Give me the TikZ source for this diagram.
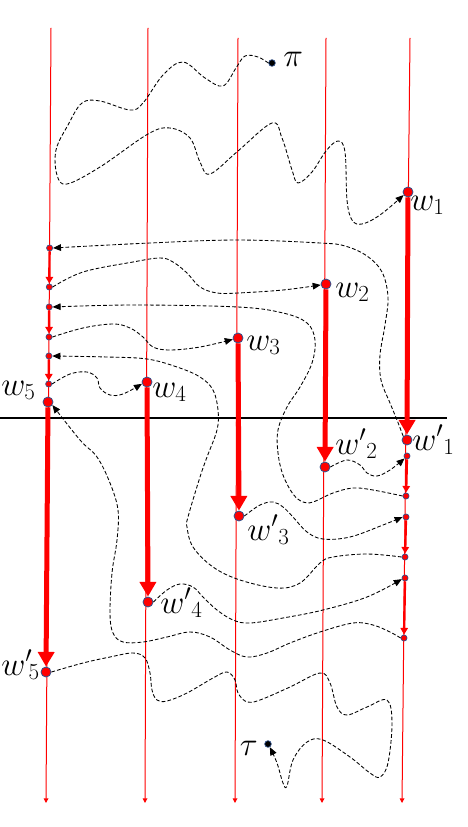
\documentclass[tikz,border=0pt]{standalone}
\usetikzlibrary{arrows.meta}
\definecolor{rimblue}{RGB}{47,82,143}
\tikzset{
  thinline/.style={red, line width=0.75pt, -{Triangle[length=3.5pt,width=3.5pt]}},
  bigarrow/.style={red, line width=3.75pt, -{Triangle[length=11pt,width=12pt]}},
  smallarrow/.style={red, line width=1.8pt, -{Triangle[length=5pt,width=5.5pt]}},
  walk/.style={black, line width=0.65pt, dash pattern=on 2.8pt off 1.6pt, -{Triangle[length=6pt,width=5pt]}},
  bigdot/.style={circle, fill=red, draw=rimblue, line width=0.6pt, inner sep=0pt, minimum size=7.5pt},
  smalldot/.style={circle, fill=red, draw=rimblue, line width=0.5pt, inner sep=0pt, minimum size=4.6pt},
  enddot/.style={circle, fill=black, draw=rimblue, line width=0.5pt, inner sep=0pt, minimum size=5pt},
  lab/.style={inner sep=0pt, font=\fontsize{23}{26}\selectfont}
}
\begin{document}
\begin{tikzpicture}[x=0.75pt, y=-0.75pt]
    \useasboundingbox (0,0) rectangle (467,827);

    % the five vertical lines
    \coordinate (t1) at (51,28);  \coordinate (b1) at (46,803);
    \coordinate (t2) at (148,28); \coordinate (b2) at (145,803);
    \coordinate (t3) at (238,38); \coordinate (b3) at (235,803);
    \coordinate (t4) at (326,38); \coordinate (b4) at (322,803);
    \coordinate (t5) at (410,38); \coordinate (b5) at (402,803);
    \foreach \i in {1,...,5} \draw[thinline] (t\i) -- (b\i);

    % the cut
    \coordinate (cl) at (0,418); \coordinate (cr) at (447,418);
    \draw[line width=1.2pt] (cl) -- (cr);

    % big dots
    \node[bigdot] (w1) at (408,192) {};  \node[bigdot] (w1p) at (407,440) {};
    \node[bigdot] (w2) at (326,284) {};  \node[bigdot] (w2p) at (325,467) {};
    \node[bigdot] (w3) at (238,338) {};  \node[bigdot] (w3p) at (239,516) {};
    \node[bigdot] (w4) at (147,382) {};  \node[bigdot] (w4p) at (148,602) {};
    \node[bigdot] (w5) at (48,402) {};   \node[bigdot] (w5p) at (46,672) {};

    % small dots, left line and right line
    \node[smalldot] (p1) at (49.6,248) {}; \node[smalldot] (p2) at (49.3,287) {};
    \node[smalldot] (p3) at (49.2,307) {}; \node[smalldot] (p4) at (49,337) {};
    \node[smalldot] (p5) at (48.9,356) {}; \node[smalldot] (p6) at (48.7,384) {};
    \node[smalldot] (q0) at (407,456) {};  \node[smalldot] (q1) at (406,496) {};
    \node[smalldot] (q2) at (406,517) {};  \node[smalldot] (q3) at (405,557) {};
    \node[smalldot] (q4) at (405,578) {};  \node[smalldot] (q5) at (404,638) {};

    \node[enddot] (pi) at (272,63) {};
    \node[enddot] (tau) at (268,744) {};

    % labels
    \node[lab, anchor=base west] (lpi) at (283,67) {$\pi$};
    \node[lab, anchor=base east] (ltau) at (258,755) {$\tau$};
    \node[lab, anchor=base west] (lw1) at (410,210) {$w_1$};
    \node[lab, anchor=base west] (lw2) at (335,297) {$w_2$};
    \node[lab, anchor=base west] (lw3) at (246,350) {$w_3$};
    \node[lab, anchor=base west] (lw4) at (152,397) {$w_4$};
    \node[lab, anchor=base east] (lw5) at (36,395) {$w_5$};
    \node[lab, anchor=base west] (lw1p) at (412,450) {${w'}_1$};
    \node[lab, anchor=base west] (lw2p) at (335,454) {${w'}_2$};
    \node[lab, anchor=base west] (lw3p) at (247,540) {${w'}_3$};
    \node[lab, anchor=base west] (lw4p) at (160,613) {${w'}_4$};
    \node[lab, anchor=base west] (lw5p) at (1,675) {${w'}_{\!5}$};

    % red moves down the lines
    \draw[bigarrow] (w1) -- (w1p);
    \draw[bigarrow] (w2) -- (w2p);
    \draw[bigarrow] (w3) -- (w3p);
    \draw[bigarrow] (w4) -- (w4p);
    \draw[bigarrow] (w5) -- (w5p);
    \draw[smallarrow] (p1) -- (p2); \draw[smallarrow] (p3) -- (p4); \draw[smallarrow] (p5) -- (p6);
    \draw[smallarrow] (q0) -- (q1); \draw[smallarrow] (q2) -- (q3); \draw[smallarrow] (q4) -- (q5);

    % dashed walks
    \draw[walk] plot[smooth, tension=0.6] coordinates {(pi.west) (258,57) (245,56) (236,68) (223,86)
      (205,78) (183,62) (163,75) (143,103) (130,110) (100,101) (82,103) (68,125) (56,150) (57,175)
      (67,184) (100,167) (148,134) (170,128) (190,138) (200,162) (210,174) (238,151) (272,123)
      (282,138) (292,170) (298,183) (312,172) (326,151) (338,141) (345,152) (347,200) (352,220)
      (362,224) (380,215) (w1.215)};
    \draw[walk] plot[smooth, tension=0.6] coordinates {(w1p.135) (397,420) (390,403) (381,380)
      (380,355) (385,325) (388,297) (382,272) (367,256) (345,246) (320,243) (238,240) (150,243) (p1.east)};
    \draw[walk] plot[smooth, tension=0.6] coordinates {(p2.east) (83,272) (133,262) (160,258)
      (173,262) (187,273) (200,287) (217,293) (238,293) (283,290) (w2.190)};
    \draw[walk] plot[smooth, tension=0.6] coordinates {(q1.west) (373,490) (353,488) (333,493)
      (313,502) (303,502) (293,494) (283,475) (278,453) (278,430) (287,407) (300,387) (312,363)
      (315,340) (307,323) (283,313) (238,307) (133,305) (p3.east)};
    \draw[walk] plot[smooth, tension=0.6] coordinates {(p4.east) (83,328) (113,324) (130,328)
      (143,337) (153,347) (170,350) (200,347) (w3.195)};
    \draw[walk] plot[smooth, tension=0.6] coordinates {(q3.west) (367,554) (333,557) (320,563)
      (300,583) (277,588) (240,580) (213,567) (193,547) (187,527) (188,517) (200,477) (207,457)
      (217,430) (218,410) (213,390) (200,377) (177,367) (147,359) (107,357) (p5.east)};
    \draw[walk] plot[smooth, tension=0.6] coordinates {(w3p.east) (260,505) (273,502) (283,507)
      (293,517) (307,532) (323,539) (350,537) (383,525) (q2.west)};
    \draw[walk] plot[smooth, tension=0.6] coordinates {(w2p.east) (347,460) (360,465) (367,473)
      (377,476) (390,470) (q0.south west)};
    \draw[walk] plot[smooth, tension=0.6] coordinates {(p6.east) (70,374) (87,372) (97,378)
      (100,388) (110,395) (123,394) (w4.200)};
    \draw[walk] plot[smooth, tension=0.6] coordinates {(q5.west) (390,632) (373,625) (353,623)
      (320,632) (290,643) (267,653) (247,657) (230,650) (210,637) (190,632) (167,637) (143,642)
      (123,642) (113,633) (110,613) (112,573) (117,540) (118,510) (110,483) (97,457) (80,440)
      (w5.-35)};
    \draw[walk] plot[smooth, tension=0.6] coordinates {(w4p.east) (167,590) (180,584) (193,587)
      (203,597) (217,610) (233,620) (250,623) (283,618) (323,610) (367,597) (q4.200)};
    \draw[walk] plot[smooth, tension=0.6] coordinates {(w5p.east) (83,663) (110,657) (133,653)
      (145,658) (150,673) (152,690) (157,700) (167,701) (187,693) (213,678) (227,672) (235,680)
      (238,693) (247,702) (260,700) (290,687) (320,673) (330,683) (337,707) (347,715) (367,707)
      (387,700) (392,723) (388,763) (380,777) (370,773) (350,757) (323,740) (307,742) (293,760)
      (287,786) (283,783) (277,763) (tau.-60)};
\end{tikzpicture}
\end{document}
